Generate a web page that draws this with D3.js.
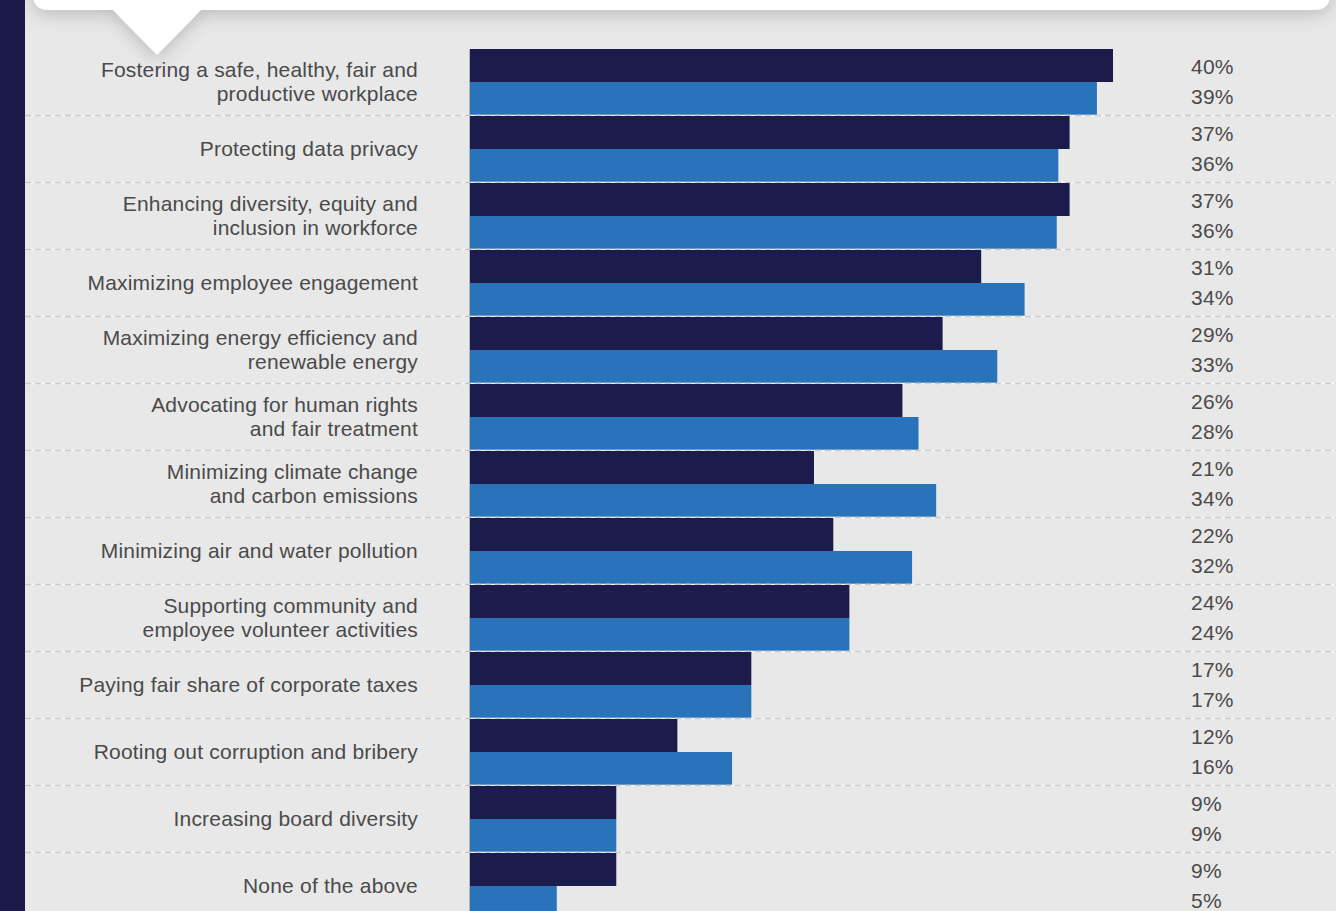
<!DOCTYPE html>
<html>
<head>
<meta charset="utf-8">
<script src="https://cdn.jsdelivr.net/npm/d3@7"></script>
<style>
body { margin: 0; background: #e8e8e8; overflow: hidden; }
text { font-family: "Liberation Sans", Arial, sans-serif; }
.cat { font-size: 21px; fill: #4a4a4a; letter-spacing: 0.2px; }
.pct { font-size: 21px; fill: #4a4a4a; letter-spacing: 0.2px; }
</style>
</head>
<body>
<svg id="chart"></svg>
<script>
var width = 1336;
var height = 911;

// categories, top to bottom ("\n" = line break in label)
var categories = [
	"Fostering a safe, healthy, fair and\nproductive workplace",
	"Protecting data privacy",
	"Enhancing diversity, equity and\ninclusion in workforce",
	"Maximizing employee engagement",
	"Maximizing energy efficiency and\nrenewable energy",
	"Advocating for human rights\nand fair treatment",
	"Minimizing climate change\nand carbon emissions",
	"Minimizing air and water pollution",
	"Supporting community and\nemployee volunteer activities",
	"Paying fair share of corporate taxes",
	"Rooting out corruption and bribery",
	"Increasing board diversity",
	"None of the above"
];

// bar lengths as drawn (percent)
var darkValues = [40.0, 37.3, 37.3, 31.8, 29.4, 26.9, 21.4, 22.6, 23.6, 17.5, 12.9, 9.1, 9.1];
var blueValues = [39.0, 36.6, 36.5, 34.5, 32.8, 27.9, 29.0, 27.5, 23.6, 17.5, 16.3, 9.1, 5.4];

// printed labels
var darkLabels = ["40%","37%","37%","31%","29%","26%","21%","22%","24%","17%","12%","9%","9%"];
var blueLabels = ["39%","36%","36%","34%","33%","28%","34%","32%","24%","17%","16%","9%","5%"];

var darkColor = "#1b1c4c";
var blueColor = "#2873ba";
var barX0 = 470;
var rowTop = 49;
var rowStep = 67;
var barH = 33;
var labelRight = 418;
var pctX = 1191;

var svg = d3.select("#chart")
	.attr("width", width)
	.attr("height", height);

var x = d3.scaleLinear()
	.domain([0, 40])
	.range([barX0, 1113]);

var y = d3.scaleBand()
	.domain(d3.range(categories.length))
	.range([rowTop, rowTop + rowStep * categories.length])
	.paddingInner(0);

function drawFrame() {
	svg.append("rect")
		.attr("width", width).attr("height", height)
		.attr("fill", "#e8e8e8");

	var defs = svg.append("defs");
	var f = defs.append("filter").attr("id", "shadow")
		.attr("x", "-10%").attr("y", "-50%").attr("width", "120%").attr("height", "300%");
	f.append("feDropShadow")
		.attr("dx", 0).attr("dy", 4)
		.attr("stdDeviation", 9)
		.attr("flood-color", "#000")
		.attr("flood-opacity", 0.2);

	// speech box at the top with its pointer
	var r = 16;
	var p = d3.path();
	p.moveTo(33, -40);
	p.lineTo(1330, -40);
	p.lineTo(1330, 10 - r);
	p.quadraticCurveTo(1330, 10, 1330 - r, 10);
	p.lineTo(201, 10);
	p.lineTo(157, 55);
	p.lineTo(113, 10);
	p.lineTo(33 + r, 10);
	p.quadraticCurveTo(33, 10, 33, 10 - r);
	p.closePath();
	svg.append("path")
		.attr("d", p.toString())
		.attr("fill", "#fff")
		.attr("filter", "url(#shadow)");

	// navy strip on the left
	svg.append("rect")
		.attr("x", 0).attr("y", 0)
		.attr("width", 25).attr("height", height)
		.attr("fill", "#1b1b4b");
}

function drawRows() {
	var rows = svg.append("g").attr("class", "rows")
		.selectAll("g")
		.data(categories)
		.enter()
		.append("g")
		.attr("transform", function(d, i) { return "translate(0," + y(i) + ")"; });

	rows.append("rect")
		.attr("x", barX0)
		.attr("y", 0)
		.attr("width", function(d, i) { return x(darkValues[i]) - barX0; })
		.attr("height", barH)
		.attr("fill", darkColor);

	rows.append("rect")
		.attr("x", barX0)
		.attr("y", barH)
		.attr("width", function(d, i) { return x(blueValues[i]) - barX0; })
		.attr("height", barH)
		.attr("fill", blueColor);

	// separators
	rows.filter(function(d, i) { return i < categories.length - 1; })
		.each(function() {
			var g = d3.select(this);
			g.append("line")
				.attr("x1", 25).attr("x2", width)
				.attr("y1", 66.5).attr("y2", 66.5)
				.attr("stroke", "#f6f6f6").attr("stroke-width", 1.5);
			g.append("line")
				.attr("x1", 25).attr("x2", width)
				.attr("y1", 66.5).attr("y2", 66.5)
				.attr("stroke", "#c9c9c9").attr("stroke-width", 1.5)
				.attr("stroke-dasharray", "6,4");
		});

	// category labels
	rows.append("text")
		.attr("class", "cat")
		.attr("text-anchor", "end")
		.each(function(d) {
			var lines = d.split("\n");
			var t = d3.select(this);
			lines.forEach(function(line, j) {
				t.append("tspan")
					.attr("x", labelRight)
					.attr("y", barH + (j - (lines.length - 1) / 2) * 24)
					.attr("dy", "0.35em")
					.text(line);
			});
		});

	rows.append("text")
		.attr("class", "pct")
		.attr("x", pctX)
		.attr("y", barH - 15)
		.attr("dy", "0.35em")
		.text(function(d, i) { return darkLabels[i]; });

	rows.append("text")
		.attr("class", "pct")
		.attr("x", pctX)
		.attr("y", barH + 15)
		.attr("dy", "0.35em")
		.text(function(d, i) { return blueLabels[i]; });
}

function drawAxis() {
	svg.append("line")
		.attr("x1", barX0 - 0.5).attr("x2", barX0 - 0.5)
		.attr("y1", rowTop).attr("y2", height)
		.attr("stroke", "#b5b5b5").attr("stroke-width", 1);
}

drawFrame();
drawRows();
drawAxis();
</script>
</body>
</html>
